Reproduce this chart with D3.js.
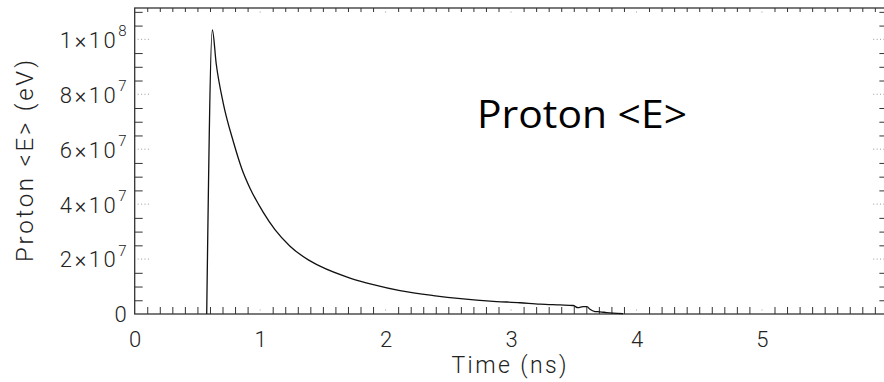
<!DOCTYPE html>
<html><head><meta charset="utf-8">
<script src="https://cdn.jsdelivr.net/npm/d3@7"></script>
<style>
body{margin:0;background:#fff;}
svg{display:block;}
</style></head><body>
<svg id="c" width="884" height="382"></svg>
<script>
// Data (time in ns, mean proton energy in units of 1e7 eV)
const timeNs = [0.574,0.619,0.650,0.706,0.786,0.853,0.919,1.025,1.118,1.238,1.384,1.477,1.716,1.902,2.115,2.380,2.619,2.832,3.071,3.231,3.390,3.494,3.534,3.573,3.605,3.629,3.669,3.709,3.762,3.813,3.893];
const energyE7 = [0,10.34,9.1,7.67,6.28,5.30,4.58,3.70,3.07,2.47,1.97,1.74,1.31,1.07,0.85,0.67,0.55,0.47,0.41,0.36,0.33,0.31,0.23,0.27,0.27,0.17,0.09,0.08,0.05,0.03,0.01];
const xMajorTicks = [0,1,2,3,4,5];
const yMajorTicks = [0,2e7,4e7,6e7,8e7,1e8];
const yTickMantissa = ["0","2","4","6","8","1"];
const yTickExponent = ["","7","7","7","7","8"];
const xTitle = "Time (ns)";
const yTitle = "Proton <E> (eV)";
const annotation = "Proton <E>";

const svg = d3.select("#c");
const x = d3.scaleLinear().domain([0,6]).range([134.7,887.4]);
const y = d3.scaleLinear().domain([0,1.114e8]).range([314,8]);
const L=x.range()[0], R=x.range()[1], B=y.range()[0], T=y.range()[1];
const labelFont = "Roboto, 'DejaVu Sans', sans-serif";

const xMinor = d3.range(0,60).map(i=>i/10).filter(v=>Math.abs(v-Math.round(v))>1e-6);
const yMinor = d3.range(0,23).map(i=>i*5e6).filter(v=>v%2e7!==0);

// frame
svg.append("rect").attr("x",L).attr("y",T).attr("width",R-L).attr("height",B-T)
  .attr("fill","none").attr("stroke","#333").attr("stroke-width",1.3);

function styleAxis(g){ g.select(".domain").remove(); g.selectAll("line").attr("stroke","#333"); }

svg.append("g").attr("transform",`translate(0,${B})`)
  .call(d3.axisTop(x).tickValues(xMinor).tickSize(7).tickFormat("")).call(styleAxis);
svg.append("g").attr("transform",`translate(0,${T})`)
  .call(d3.axisBottom(x).tickValues(xMinor).tickSize(4).tickFormat("")).call(styleAxis);
svg.append("g").attr("transform",`translate(${L},0)`)
  .call(d3.axisRight(y).tickValues(yMinor).tickSize(8).tickFormat("")).call(styleAxis);
svg.append("g").attr("transform",`translate(${R},0)`)
  .call(d3.axisLeft(y).tickValues(yMinor).tickSize(8).tickFormat("")).call(styleAxis);

// major ticks (dotted)
const dots = svg.append("g").attr("stroke","#999").attr("stroke-width",1).attr("fill","none");
xMajorTicks.filter(v=>v>0).forEach(v=>{
  dots.append("line").attr("x1",x(v)).attr("x2",x(v)).attr("y1",B-3.5).attr("y2",B-4.5);
  dots.append("line").attr("x1",x(v)).attr("x2",x(v)).attr("y1",T+3.5).attr("y2",T+4.5);
});
yMajorTicks.filter(v=>v>0).forEach(v=>{
  dots.append("line").attr("x1",L+3).attr("x2",L+15).attr("y1",y(v)).attr("y2",y(v)).attr("stroke-dasharray","1,2.4");
  dots.append("line").attr("x1",R-3).attr("x2",R-15).attr("y1",y(v)).attr("y2",y(v)).attr("stroke-dasharray","1,2.4");
});

// x labels
const xl = svg.append("g").attr("transform",`translate(0,${B})`)
  .call(d3.axisBottom(x).tickValues(xMajorTicks).tickSize(0).tickPadding(17).tickFormat(d3.format("d")));
xl.select(".domain").remove();
xl.selectAll("text").style("font-size","22px").style("font-family",labelFont).style("font-weight",300).attr("fill","#222");

// y labels
const yl = svg.append("g").attr("transform",`translate(${L},0)`)
  .call(d3.axisLeft(y).tickValues(yMajorTicks).tickSize(0).tickPadding(8).tickFormat(""));
yl.select(".domain").remove();
yl.selectAll("text").each(function(d,i){
  const t = d3.select(this).style("font-size","22px").style("font-family",labelFont).style("font-weight",300).attr("fill","#222").attr("dy","0.36em");
  if(yTickExponent[i]===""){ t.text(yTickMantissa[i]); }
  else{
    t.append("tspan").attr("letter-spacing","2.6px").text(yTickMantissa[i]+"\u00d710");
    t.append("tspan").style("font-size","15px").attr("dy","-0.75em").text(yTickExponent[i]);
  }
});

// curve
const line = d3.line().x((d,i)=>x(timeNs[i])).y((d,i)=>y(energyE7[i]*1e7)).curve(d3.curveMonotoneX);
svg.append("path").datum(energyE7).attr("d",line).attr("fill","none").attr("stroke","#111").attr("stroke-width",1.3);

// titles
svg.append("text").attr("x",509).attr("y",373).attr("text-anchor","middle")
  .style("font-size","23px").style("font-family",labelFont).style("font-weight",300).attr("fill","#222")
  .attr("textLength",115).attr("lengthAdjust","spacing").text(xTitle);
svg.append("text").attr("transform","translate(33,161) rotate(-90)").attr("text-anchor","middle")
  .style("font-size","24px").style("font-family",labelFont).style("font-weight",300).attr("fill","#222")
  .attr("textLength",202).attr("lengthAdjust","spacing").text(yTitle);
svg.append("text").attr("x",477).attr("y",128)
  .style("font-size","39px").style("font-family","'Open Sans', 'Noto Sans', sans-serif").style("font-weight",400).attr("fill","#000")
  .attr("textLength",210).attr("lengthAdjust","spacingAndGlyphs").text(annotation);
</script>
</body></html>
